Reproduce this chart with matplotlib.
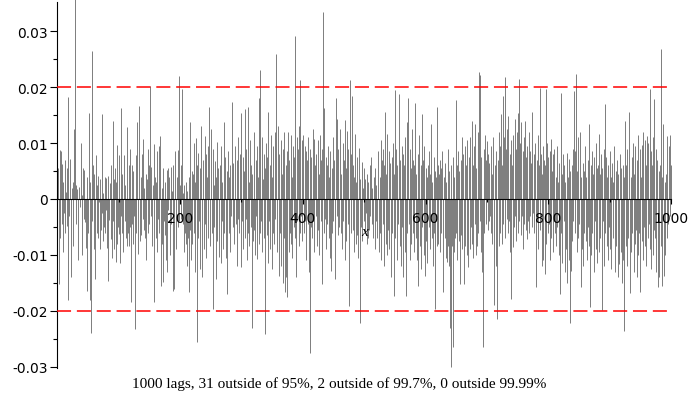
import numpy as np
import matplotlib
matplotlib.use("Agg")
import matplotlib.pyplot as plt
from matplotlib.ticker import FixedLocator, FixedFormatter

# autocorrelation values, units of 1e-4, lags 1..1000
acf = [
    55,-78,-152,88,-70,85,-45,62,-95,30,-25,70,-60,12,55,-48,-180,182,-30,50,
    72,-55,-140,20,-85,30,126,360,28,-45,25,18,-30,-110,22,15,-15,95,100,8,
    -100,55,-35,52,-42,-20,-88,40,-164,-60,154,123,-180,30,-240,-40,265,60,-90,45,
    -143,-20,79,-60,25,-70,42,-5,-90,35,-55,152,-25,-75,10,-50,40,-60,38,-20,
    -88,-146,42,-38,-30,28,-72,60,-105,140,-40,35,-90,55,-112,30,-80,97,-50,-62,
    78,-115,162,-30,-60,45,-95,20,78,-40,25,-70,129,-85,-60,60,-85,90,-50,-185,
    -45,60,-80,50,-30,-233,-95,79,-60,137,-50,-98,167,-20,-75,40,-65,80,107,-35,
    -55,20,-70,45,-110,35,-60,90,-45,60,203,-30,58,-85,-50,25,98,-185,40,-70,
    30,-95,85,-35,94,-60,45,113,-155,20,-80,55,-149,-40,-65,30,-110,52,-130,55,
    -20,40,-75,-100,58,-45,15,60,-164,-161,30,86,-60,-90,40,-50,88,220,-40,25,
    60,-35,197,10,-45,-95,25,-60,30,-80,15,-120,-70,40,-166,137,-55,-110,50,-80,
    45,-60,100,-130,30,109,-255,60,-70,82,-40,-125,55,131,-60,-140,20,70,-90,112,
    -45,80,-105,40,95,-70,164,-20,-85,125,35,-60,90,-197,25,-50,68,-143,40,102,
    -75,55,-30,-103,60,-115,95,-40,30,-90,138,-60,20,75,-105,-170,50,85,-60,40,
    -95,60,-30,88,174,-50,65,-80,30,95,-45,-120,70,-35,110,-60,45,80,-122,153,
    -40,75,-90,50,-70,161,-35,90,-110,164,-60,30,-85,105,-50,60,-230,45,-75,120,
    -55,-100,70,-30,95,-107,40,-80,181,-60,231,-40,110,-95,35,80,-70,-241,55,100,
    -65,75,-115,155,-40,60,-90,115,-125,40,-60,95,-80,120,-35,70,260,-95,55,130,
    -137,80,-60,105,-120,45,-150,90,-70,120,-167,60,-140,-176,85,120,-95,70,-60,115,
    -80,40,-105,95,-50,75,291,-70,-140,110,-40,90,-85,130,-60,213,-30,105,-75,115,
    101,-60,95,-40,85,-110,70,-45,110,-130,-276,90,-50,75,-70,125,-40,107,-95,60,
    -30,80,-85,105,-55,45,-100,115,-40,70,-152,90,334,-60,163,-35,75,-90,60,-45,
    95,-70,40,-105,85,-128,55,-60,110,-40,70,-85,-143,180,-30,143,-65,90,-50,60,
    125,-60,45,-90,100,-40,70,141,-110,55,-75,122,-45,90,-120,-191,212,-60,80,185,
    -55,60,-95,40,116,-80,30,-65,75,-105,50,92,-222,35,-50,67,-75,20,-40,55,
    -60,35,-25,-80,45,-70,30,-55,60,-30,75,-45,20,-65,-69,40,-90,55,-40,25,
    -70,50,86,-95,40,-60,106,-110,70,-45,90,-120,60,156,-80,45,-100,116,-55,85,
    -90,65,-125,-139,75,-60,100,-173,45,195,-70,90,-110,60,-45,120,187,-85,70,-120,
    95,-50,80,-140,60,-95,110,-173,137,-60,75,180,-45,90,-110,55,-80,125,-60,70,
    -95,60,171,-70,45,-110,-155,80,-40,115,-85,60,-125,152,-50,70,-100,95,-138,55,
    -75,40,-115,60,-50,85,-90,45,134,-70,30,-120,75,-60,50,-196,40,164,-85,60,
    -80,45,-95,70,-60,55,86,-90,-167,40,-70,65,-105,30,-113,90,-85,50,-120,-230,
    -301,60,-85,-264,75,-95,40,-70,177,-60,60,-110,85,-75,50,-152,70,-65,110,-90,
    80,-70,-152,95,-85,60,-100,105,-55,-122,75,-90,110,-50,140,-80,60,-105,95,-45,
    134,-100,55,-85,120,-60,227,-40,222,-95,75,-130,-265,-137,90,-60,115,-45,70,104,
    -55,80,-40,65,-30,95,-60,45,-80,110,-150,-190,60,-120,85,-100,-215,70,-85,120,
    -60,95,152,-80,60,185,-45,110,218,-70,90,-35,125,-60,149,-40,80,-95,105,-179,
    60,-86,115,-50,143,-30,90,-75,120,154,-60,215,-40,100,-65,137,-30,85,-90,110,
    -45,140,-55,75,-72,95,-40,120,-60,85,-30,65,-50,155,-25,80,-60,100,45,-158,
    70,-40,115,-90,60,198,-55,80,-120,45,95,-110,70,-135,60,197,-80,100,-60,75,
    -45,-110,85,107,-70,50,-95,80,-40,90,-60,40,-85,95,-50,30,-100,65,-170,189,
    -60,45,-115,80,-40,60,-130,30,-90,83,-150,40,72,-110,50,-222,-128,60,-75,90,
    -40,194,-60,85,224,-95,50,-70,110,-45,75,120,-158,40,-90,65,-120,50,-60,95,
    -75,40,-110,70,-50,134,-85,-194,60,-100,86,-60,45,-130,75,-40,100,-90,55,-115,
    60,117,-95,45,-70,80,-199,55,-40,90,-120,170,-60,75,-85,40,-110,60,-50,85,
    -90,40,-125,65,-70,30,95,-105,-131,50,-85,70,-140,45,-60,-116,80,-95,55,-150,
    60,-110,40,-236,140,-85,60,-120,90,-70,50,155,-168,40,-95,75,-60,100,-130,45,
    -80,95,-55,-140,70,-100,115,-60,90,-167,40,-75,97,-110,120,-50,105,-85,60,-120,
    113,-70,100,-45,197,-90,85,-125,60,-100,110,179,-55,-69,90,-130,70,-110,-158,50,
    -140,60,-85,268,-155,40,134,-60,-137,30,-100,45,-70,112,-45,20,95,-30,114,60,
]
bound = 0.02
y_ticks = [-0.03, -0.02, -0.01, 0, 0.01, 0.02, 0.03]
y_labels = ["-0.03", "-0.02", "-0.01", "0", "0.01", "0.02", "0.03"]
x_ticks = [200, 400, 600, 800, 1000]
x_labels = ["200", "400", "600", "800", "1000"]
caption = "1000 lags, 31 outside of 95%, 2 outside of 99.7%, 0 outside 99.99%"

vals = np.array(acf) * 1e-4
lags = np.arange(1, len(vals) + 1)

fig = plt.figure(figsize=(6.89, 4.02), dpi=100)
ax = fig.add_axes([0.0832, 0.0826, 0.8907, 0.9094])

vl = ax.vlines(lags, 0, vals, colors='#808080', linewidth=0.72, zorder=0.5)
vl.set_clip_on(False)
for b in (bound, -bound):
    ax.axhline(b, color='#ff0000', lw=1.1, dashes=(9.2, 3.8), zorder=3)

ax.set_xlim(0, 1000)
ax.set_ylim(-0.0302, 0.0352)

ax.spines['top'].set_visible(False)
ax.spines['right'].set_visible(False)
ax.spines['left'].set_linewidth(0.8)
ax.spines['bottom'].set_linewidth(0.8)
ax.spines['bottom'].set_position(('data', 0))
ax.spines['bottom'].set_zorder(5)
ax.set_axisbelow(False)

ax.yaxis.set_major_locator(FixedLocator(y_ticks))
ax.yaxis.set_major_formatter(FixedFormatter(y_labels))
ax.yaxis.set_minor_locator(FixedLocator([-0.025, -0.015, -0.005, 0.005, 0.015, 0.025]))
ax.xaxis.set_major_locator(FixedLocator(x_ticks))
ax.xaxis.set_major_formatter(FixedFormatter(x_labels))
ax.xaxis.set_minor_locator(FixedLocator([100, 300, 500, 700, 900]))

ax.tick_params(axis='y', which='major', length=5, width=0.8, pad=1.7, labelsize=10)
ax.tick_params(axis='y', which='minor', length=3, width=0.8)
ax.tick_params(axis='x', which='major', length=3.6, width=0.8, pad=5, labelsize=10)
ax.tick_params(axis='x', which='minor', length=2, width=0.8)

ax.annotate('x', xy=(500, 0), xycoords='data', xytext=(0, -33),
            textcoords='offset pixels', ha='center', va='center',
            family='Liberation Serif', style='italic', fontsize=11, zorder=6)

fig.text(0.492, 0.045, caption, ha='center', va='center',
         family='Liberation Serif', fontsize=11)

fig.savefig('out.png', dpi=100)
